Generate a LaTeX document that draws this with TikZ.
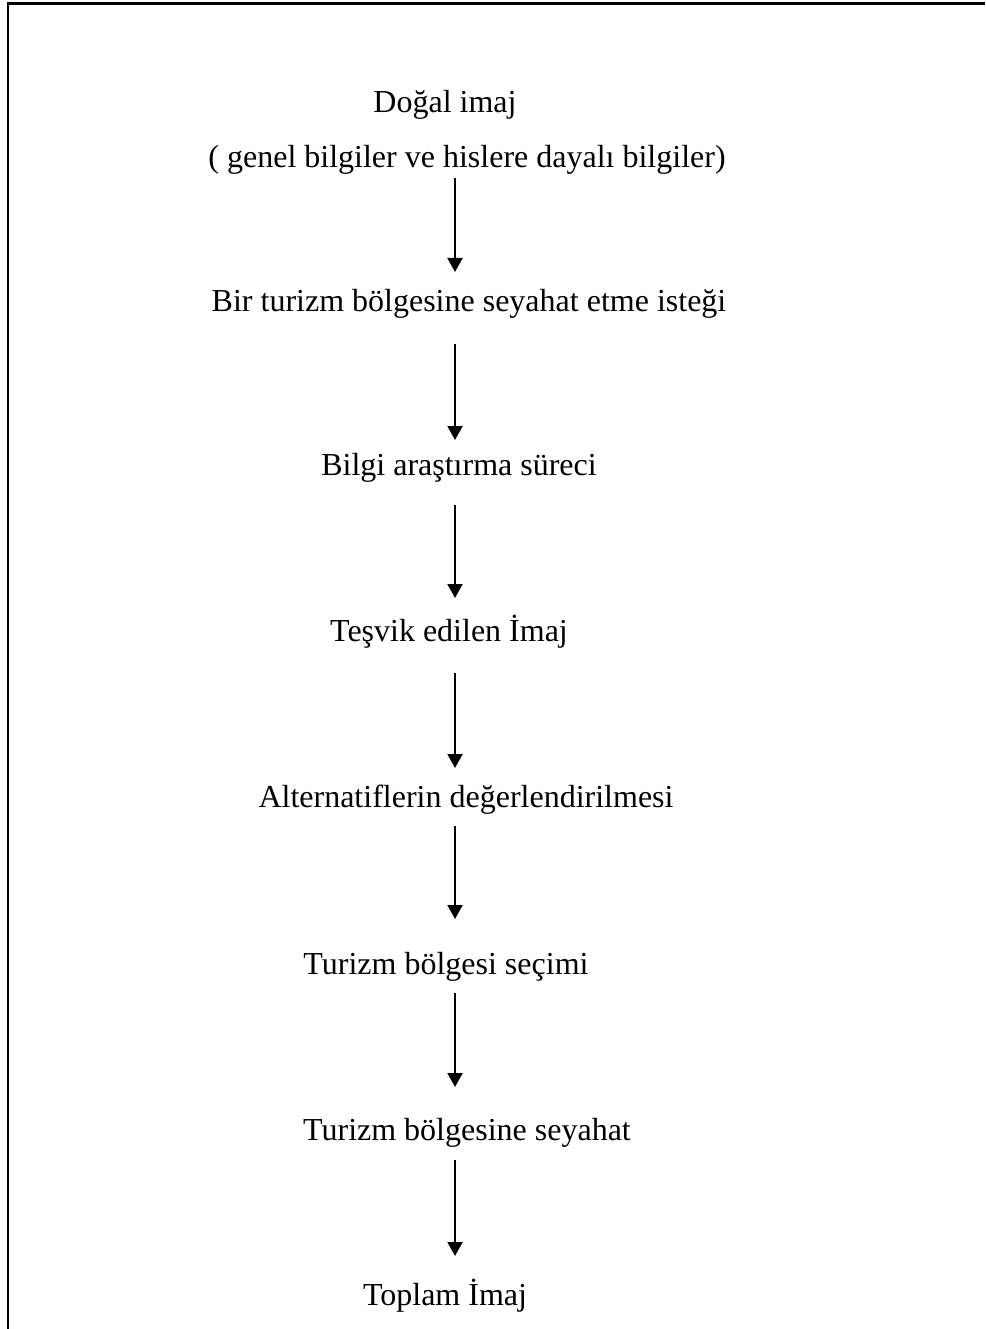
\documentclass[tikz,border=0pt]{standalone}
\usepackage{fontspec}
\setmainfont{Liberation Serif}
\usetikzlibrary{arrows.meta}
\begin{document}
\begin{tikzpicture}[x=1pt,y=-1pt,
  label/.style={anchor=base,inner sep=0pt,font=\fontsize{32}{38}\selectfont},
  flow/.style={line width=2pt,-{Triangle[width=15pt,length=14pt]}},
  frame/.style={line width=2.5pt}]
\useasboundingbox (0,0) rectangle (985,1329);
% open frame: left and top edges only
\draw[frame] (8,1329) -- (8,3.5) -- (985,3.5);

% stage labels
\node[label] (t0) at (445,113) {Doğal imaj};
\node[label] (t0b) at (467,168) {( genel bilgiler ve hislere dayalı bilgiler)};
\node[label] (t1) at (469,311) {Bir turizm bölgesine seyahat etme isteği};
\node[label] (t2) at (459,475) {Bilgi araştırma süreci};
\node[label] (t3) at (449,641) {Teşvik edilen İmaj};
\node[label] (t4) at (466,807) {Alternatiflerin değerlendirilmesi};
\node[label] (t5) at (446,974) {Turizm bölgesi seçimi};
\node[label] (t6) at (467,1140) {Turizm bölgesine seyahat};
\node[label] (t7) at (445,1305) {Toplam İmaj};

% arrow end points
\coordinate (a1s) at (455,178);  \coordinate (a1e) at (455,272);
\coordinate (a2s) at (455,344);  \coordinate (a2e) at (455,440);
\coordinate (a3s) at (455,505);  \coordinate (a3e) at (455,598);
\coordinate (a4s) at (455,673);  \coordinate (a4e) at (455,768);
\coordinate (a5s) at (455,826);  \coordinate (a5e) at (455,919);
\coordinate (a6s) at (455,993);  \coordinate (a6e) at (455,1087);
\coordinate (a7s) at (455,1160); \coordinate (a7e) at (455,1256);

\foreach \i in {1,...,7} \draw[flow] (a\i s) -- (a\i e);
\end{tikzpicture}
\end{document}
